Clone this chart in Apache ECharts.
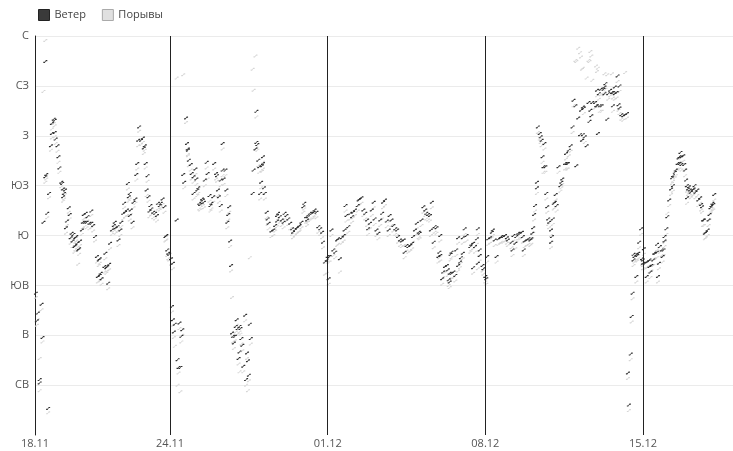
<!DOCTYPE html>
<html>
<head>
<meta charset="utf-8">
<script src="https://cdn.jsdelivr.net/npm/echarts@6/dist/echarts.min.js"></script>
<style>
  html, body { margin: 0; padding: 0; background: #fff; }
  #chart { width: 733px; height: 451px; }
</style>
</head>
<body>
<div id="chart"></div>
<script>
// часы от 18.11 00:00
const hours = [
  1,2,3,5,5,7,8,9,11,11,12,13,14,15,17,18,18,20,21,21,
  22,24,25,26,28,29,30,30,31,32,33,34,36,37,38,39,40,41,42,43,
  43,44,45,46,47,48,50,51,52,53,54,55,56,58,60,60,62,64,66,67,
  68,69,69,70,71,74,75,76,77,78,79,80,82,84,85,86,88,89,91,92,
  94,95,96,98,99,100,101,101,102,104,105,107,108,109,110,111,113,115,116,117,
  118,119,120,121,122,123,124,126,128,130,131,133,134,136,138,139,140,141,142,143,
  145,146,147,147,148,149,151,152,153,154,155,156,157,158,159,161,162,163,163,164,
  166,167,169,169,171,172,173,174,175,176,178,179,180,181,183,184,186,187,188,190,
  191,193,194,195,196,198,198,200,200,201,203,204,205,206,207,208,209,210,211,212,
  213,214,215,216,217,218,218,219,220,221,222,224,225,226,227,228,229,230,232,233,
  235,236,236,237,238,239,240,241,242,243,243,244,245,247,248,249,252,254,256,258,
  258,259,261,263,265,266,268,270,272,274,275,277,279,281,282,284,286,287,289,290,
  291,293,295,297,298,300,302,304,306,307,309,311,312,313,314,316,318,320,322,323,
  325,327,329,330,331,332,334,336,338,339,341,344,345,346,348,350,352,354,355,357,
  359,361,362,364,366,368,370,371,373,375,377,378,380,382,384,386,387,389,391,393,
  394,396,398,400,402,403,405,407,409,410,412,414,416,417,419,421,422,423,425,426,
  428,430,431,432,432,434,435,437,439,440,441,442,442,443,444,444,446,448,449,451,
  451,453,454,456,456,458,460,464,465,467,467,469,471,472,472,474,474,477,478,480,
  481,482,483,485,487,488,490,492,494,496,497,499,501,503,504,508,509,510,512,513,
  515,517,519,520,521,522,524,526,528,529,530,531,532,533,535,535,536,538,539,540,
  541,542,543,544,545,546,547,548,550,550,551,552,553,554,555,556,558,560,561,562,
  565,566,567,568,569,571,573,574,576,577,579,581,582,583,584,584,585,586,588,590,
  591,592,593,594,597,598,599,599,600,601,602,603,604,606,607,607,608,610,611,613,
  615,616,616,618,618,620,621,622,623,623,625,627,629,631,632,633,635,636,637,638,
  638,639,641,641,642,643,644,646,647,648,648,649,650,652,652,654,655,655,656,657,
  659,660,661,663,663,664,665,666,668,669,670,671,671,673,674,676,678,679,680,680,
  682,683,685,686,687,687,688,689,689,691,692,693,694,695,695,696,697,698,699,701,
  702,703,704,706,707,709,710,711,712,713,714,715,717,718,719,720,721,722,723,724
];

// направление ветра, градусы
const windDeg = [
  128,103,110,47,50,118,88,192,337,233,235,200,24,218,261,272,281,285,284,273,
  267,261,251,241,228,227,222,215,218,221,187,193,205,199,178,182,175,181,170,171,
  178,179,173,167,168,175,185,192,199,192,200,192,197,191,202,191,189,179,161,143,
  158,159,144,146,141,152,164,151,152,137,154,173,185,189,192,187,188,176,185,192,
  200,209,201,203,227,215,218,198,203,192,210,213,235,245,266,278,266,268,259,261,
  245,221,234,215,202,207,204,201,200,198,209,207,209,213,206,179,180,167,164,163,
  159,116,104,155,93,100,194,68,61,101,61,89,95,235,228,286,263,257,258,248,
  244,236,233,218,240,231,221,223,209,208,213,212,210,230,246,236,216,207,209,215,
  245,236,234,221,215,207,230,263,239,231,239,221,192,199,206,175,153,92,89,83,
  89,98,104,96,69,98,75,96,87,81,62,108,50,74,67,54,100,87,218,239,
  258,264,292,262,248,242,218,228,243,251,245,223,218,201,195,191,184,185,189,193,
  198,200,197,194,192,200,198,195,191,186,183,185,187,188,189,192,206,209,197,194,
  197,200,200,201,203,201,188,186,183,174,156,158,161,141,161,185,167,165,176,177,
  159,178,180,185,207,198,188,200,197,201,203,207,212,213,214,203,200,194,186,191,
  203,210,195,185,182,194,200,210,212,193,185,198,194,189,186,185,179,176,175,176,
  165,171,170,171,173,179,185,191,183,182,194,206,203,200,199,198,185,210,174,188,
  187,161,165,180,162,141,147,152,153,149,140,138,146,163,146,165,147,144,167,153,
  178,156,160,164,178,186,180,170,172,173,151,170,177,186,155,162,167,153,150,143,
  141,161,177,178,183,185,176,161,177,178,179,179,180,178,176,174,167,180,173,179,
  182,182,183,179,167,175,176,177,176,177,182,187,199,207,223,228,278,272,269,266,
  251,242,263,242,218,206,195,192,185,174,179,195,209,210,217,207,242,225,228,231,
  245,254,245,245,257,261,278,302,297,243,286,271,293,266,296,271,295,269,261,300,
  283,293,288,300,300,297,297,311,272,308,297,312,297,312,308,314,317,285,308,311,
  309,297,309,308,314,309,324,298,295,315,289,288,289,290,56,27,73,107,128,158,
  163,161,163,143,162,164,174,186,159,155,158,168,155,156,143,157,158,152,147,153,
  158,164,164,165,172,143,155,170,167,161,167,175,179,186,197,212,222,232,225,234,
  237,239,245,250,245,251,255,251,244,252,244,239,230,225,214,222,224,221,219,221,
  222,225,219,221,212,214,208,206,194,194,182,183,185,194,199,205,207,209,208,217
];

// направление порывов, градусы
const gustDeg = [
  124,99,104,40,69,113,84,310,356,228,231,196,20,214,257,268,276,281,279,269,
  263,256,246,237,224,222,218,211,213,217,182,189,201,195,173,178,170,177,165,167,
  174,175,169,154,163,171,181,187,195,188,196,187,193,186,198,187,184,175,156,138,
  153,155,139,141,136,147,159,146,148,132,149,168,181,184,188,182,184,171,180,188,
  195,205,197,198,222,211,213,194,199,187,205,209,230,240,261,274,262,264,254,257,
  241,216,229,211,197,202,199,196,195,193,204,203,205,208,201,175,176,162,159,158,
  154,111,99,150,88,80,322,45,56,96,39,84,90,325,223,282,258,252,253,243,
  239,231,228,213,235,226,216,218,204,203,208,207,205,225,241,231,211,202,204,210,
  240,231,229,216,210,202,225,258,234,226,234,216,187,194,201,170,148,124,84,78,
  85,93,99,91,64,93,57,91,82,76,57,103,45,69,40,49,160,82,330,311,
  342,259,287,257,243,237,213,223,238,246,240,218,213,196,190,186,179,180,184,188,
  193,195,192,189,187,195,193,190,186,181,178,180,182,183,184,187,201,204,192,189,
  192,195,195,196,198,196,183,181,178,169,145,146,156,136,156,180,162,160,171,172,
  147,173,175,180,202,193,183,195,192,196,198,202,207,208,209,198,195,189,181,186,
  198,205,190,180,177,189,195,205,207,188,180,193,189,184,181,180,174,171,170,171,
  160,166,165,166,168,174,180,186,178,177,189,201,198,195,194,193,180,205,169,183,
  182,156,160,175,157,136,142,147,148,144,135,133,141,158,141,160,142,139,162,148,
  173,151,155,159,173,181,175,165,167,168,146,165,172,181,150,157,162,148,145,138,
  136,156,172,173,178,180,171,156,172,173,174,174,175,173,171,169,162,175,168,174,
  177,177,178,174,162,170,171,172,171,172,177,182,194,202,218,223,273,267,264,261,
  246,237,258,237,213,201,190,187,180,169,174,190,204,205,212,202,237,220,223,226,
  240,249,240,240,252,256,273,297,338,337,349,345,341,330,331,266,290,264,322,338,
  337,346,342,320,295,333,328,306,331,303,292,307,292,307,326,309,312,325,303,306,
  326,292,304,303,309,304,319,293,290,310,285,284,327,286,51,22,68,102,123,153,
  158,156,158,138,157,159,169,181,154,150,153,163,150,151,138,152,153,147,142,148,
  153,159,159,160,167,138,150,165,162,156,162,170,174,181,200,207,217,227,220,229,
  232,234,240,245,240,246,250,246,239,247,239,234,225,220,209,217,219,216,214,216,
  217,220,214,216,207,209,203,201,189,189,177,178,180,189,194,200,202,204,203,212
];

const dirLabels = ['', 'СВ', 'В', 'ЮВ', 'Ю', 'ЮЗ', 'З', 'СЗ', 'С'];
const tickHours = [0, 144, 312, 480, 648];
const tickLabels = ['18.11', '24.11', '01.12', '08.12', '15.12'];
const weekLines = [144, 312, 480, 648];

const chart = echarts.init(document.getElementById('chart'));

const n = Math.min(hours.length, windDeg.length, gustDeg.length);
const windData = [];
const gustData = [];
for (let i = 0; i < n; i++) {
  windData.push([hours[i], windDeg[i]]);
  gustData.push([hours[i], gustDeg[i]]);
}

// маленькая "стрелка" вместо точки
const mark = 'path://M0,3L0,1.8L1.4,1.8L2.6,0L4,0L4,1.2L2.6,1.2L1.4,3Z';

chart.setOption({
  animation: false,
  textStyle: { fontFamily: 'Open Sans' },
  legend: {
    left: 33,
    top: 4,
    itemWidth: 11,
    itemHeight: 11,
    itemGap: 16,
    icon: 'rect',
    textStyle: { fontSize: 11, color: '#444' },
    data: [
      { name: 'Ветер', itemStyle: { color: '#3a3a3a', borderColor: '#222', borderWidth: 1 } },
      { name: 'Порывы', itemStyle: { color: '#e0e0e0', borderColor: '#aaa', borderWidth: 1 } }
    ]
  },
  grid: { left: 35, right: 0, top: 36, bottom: 16 },
  xAxis: {
    type: 'value',
    min: 0,
    max: 744,
    axisLine: { show: false },
    axisTick: { show: false },
    splitLine: { show: false },
    axisLabel: {
      customValues: tickHours,
      margin: 3,
      fontSize: 11,
      color: '#555',
      formatter: v => tickLabels[tickHours.indexOf(v)] || ''
    }
  },
  yAxis: {
    type: 'value',
    min: 0,
    max: 360,
    interval: 45,
    axisLine: { show: true, lineStyle: { color: '#222', width: 1 } },
    axisTick: { show: false },
    splitLine: { show: true, showMinLine: false, lineStyle: { color: '#ebebeb' } },
    axisLabel: {
      margin: 6,
      fontSize: 11,
      color: '#555',
      formatter: v => dirLabels[Math.round(v / 45)]
    }
  },
  series: [
    {
      name: 'Порывы',
      type: 'scatter',
      data: gustData,
      symbol: mark,
      symbolSize: [4, 3],
      itemStyle: { color: '#d6d6d6', opacity: 1 },
      silent: true
    },
    {
      name: 'Ветер',
      type: 'scatter',
      data: windData,
      symbol: mark,
      symbolSize: [4, 3],
      itemStyle: { color: '#2e2e2e', opacity: 1 },
      silent: true,
      markLine: {
        silent: true,
        symbol: 'none',
        label: { show: false },
        lineStyle: { color: '#222', width: 1, type: 'solid' },
        data: weekLines.map(h => ({ xAxis: h }))
      }
    }
  ]
});
</script>
</body>
</html>
